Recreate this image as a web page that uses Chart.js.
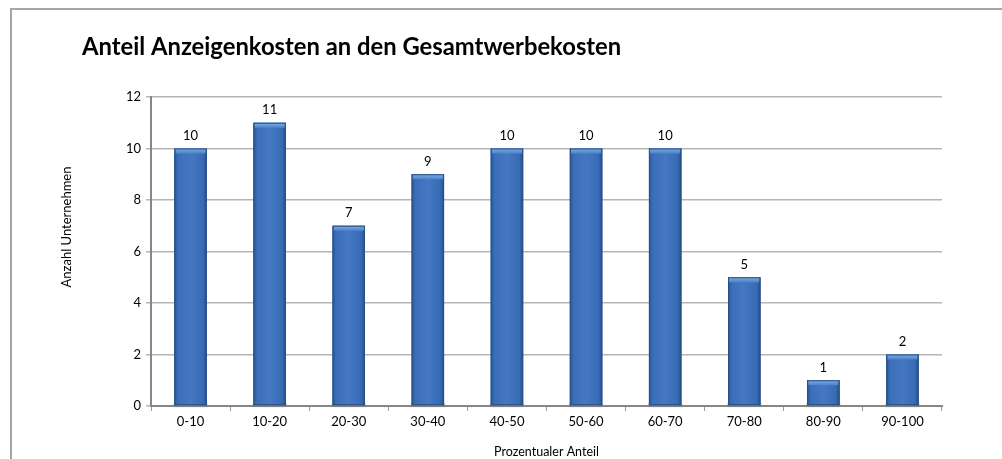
<!DOCTYPE html>
<html lang="de">
<head>
    <meta charset="utf-8" />
    <title>Anteil Anzeigenkosten</title>
    <script src="https://cdn.jsdelivr.net/npm/chart.js"></script>
    <style>
      body { margin: 0; background: #fff; }
      canvas { display: block; }
    </style>
</head>
<body>
    <canvas id="barChart" width="1002" height="459"></canvas>

    <script>
        // --- Daten ---
        const categories = ["0-10", "10-20", "20-30", "30-40", "40-50", "50-60", "60-70", "70-80", "80-90", "90-100"];
        const anzahl = [10, 11, 7, 9, 10, 10, 10, 5, 1, 2];
        const yTicks = [0, 2, 4, 6, 8, 10, 12];

        const titel = "Anteil Anzeigenkosten an den Gesamtwerbekosten";
        const xTitel = "Prozentualer Anteil";
        const yTitel = "Anzahl Unternehmen";

        const FONT = "Lato, 'Open Sans', sans-serif";

        // Rahmen, Titel und y-Achsentitel
        const framePlugin = {
            id: "frame",
            beforeDraw(chart) {
                const ctx = chart.ctx;
                ctx.save();
                ctx.strokeStyle = "#a6a6a6";
                ctx.lineWidth = 2;
                ctx.beginPath();
                ctx.moveTo(11, chart.height + 2);
                ctx.lineTo(11, 9);
                ctx.lineTo(chart.width + 2, 9);
                ctx.stroke();

                // Titel, Breite wie im Original (~540px)
                let size = 20;
                ctx.font = "bold " + size + "px " + FONT;
                size = Math.min(24, size * 540 / ctx.measureText(titel).width);
                ctx.font = "bold " + size.toFixed(1) + "px " + FONT;
                ctx.fillStyle = "#000";
                ctx.textBaseline = "middle";
                ctx.textAlign = "left";
                ctx.fillText(titel, 82, 47);

                // y-Achsentitel (leicht oberhalb der Mitte, wie im Original)
                ctx.translate(67, 227);
                ctx.rotate(-Math.PI / 2);
                ctx.font = "13px " + FONT;
                ctx.textAlign = "center";
                ctx.fillText(yTitel, 0, 0);
                ctx.restore();
            }
        };

        // Balken mit Verlauf + Werte darüber
        const barStylePlugin = {
            id: "barStyle",
            afterDatasetsDraw(chart) {
                const ctx = chart.ctx;
                const meta = chart.getDatasetMeta(0);
                ctx.save();
                meta.data.forEach((bar, i) => {
                    const p = bar.getProps(["x", "y", "base", "width"], true);
                    const l = p.x - p.width / 2, r = p.x + p.width / 2;
                    const top = p.y, h = p.base - p.y;

                    // Schatten unten
                    ctx.fillStyle = "rgba(120,120,120,0.35)";
                    ctx.fillRect(l - 1, p.base - 2, p.width + 2, 4);

                    const g = ctx.createLinearGradient(l, 0, r, 0);
                    g.addColorStop(0, "#2a589a");
                    g.addColorStop(0.12, "#3a6eb8");
                    g.addColorStop(0.5, "#4478c2");
                    g.addColorStop(0.88, "#386bb4");
                    g.addColorStop(1, "#22508e");
                    ctx.fillStyle = g;
                    ctx.fillRect(l, top, p.width, h);

                    // helle Oberkante
                    const g2 = ctx.createLinearGradient(0, top, 0, top + 5);
                    g2.addColorStop(0, "#80ace4");
                    g2.addColorStop(1, "#4d83ca");
                    ctx.fillStyle = g2;
                    ctx.fillRect(l + 1, top, p.width - 2, Math.min(5, h));

                    ctx.strokeStyle = "#2a4f84";
                    ctx.lineWidth = 1;
                    ctx.strokeRect(l + 0.5, top + 0.5, p.width - 1, h - 1);

                    // Wert
                    ctx.fillStyle = "#000";
                    ctx.font = "13px " + FONT;
                    ctx.textAlign = "center";
                    ctx.textBaseline = "bottom";
                    ctx.fillText(String(anzahl[i]), p.x, top - 6);
                });
                ctx.restore();
            }
        };

        const barCtx = document.getElementById("barChart").getContext("2d");

        let barChart = new Chart(barCtx, {
            type: "bar",
            data: {
                labels: categories,
                datasets: [{
                    label: yTitel,
                    data: anzahl,
                    backgroundColor: "#3f72b8",
                    barPercentage: 0.41,
                    categoryPercentage: 1.0
                }]
            },
            options: {
                responsive: false,
                animation: false,
                layout: {
                    padding: { left: 60, right: 60, top: 97, bottom: 0 }
                },
                plugins: {
                    legend: { display: false },
                    title: { display: false },
                    tooltip: { enabled: false }
                },
                scales: {
                    x: {
                        afterFit: (scale) => { scale.height = 53; },
                        grid: {
                            drawOnChartArea: false,
                            drawTicks: true,
                            tickLength: 5,
                            offset: true,
                            color: "#9a9a9a"
                        },
                        border: { color: "#868686", width: 2 },
                        ticks: {
                            color: "#000",
                            padding: 3,
                            font: { family: FONT, size: 13 }
                        },
                        title: {
                            display: true,
                            text: xTitel,
                            color: "#000",
                            padding: { top: 0, bottom: 0 },
                            font: { family: FONT, size: 12.5 }
                        }
                    },
                    y: {
                        min: 0,
                        max: 12,
                        afterFit: (scale) => { scale.width = 91; },
                        afterBuildTicks: (scale) => {
                            scale.ticks = yTicks.map(v => ({ value: v }));
                        },
                        grid: {
                            color: "#b5b5b5",
                            lineWidth: 1.5,
                            tickLength: 5
                        },
                        border: { color: "#868686", width: 2 },
                        ticks: {
                            color: "#000",
                            padding: 5,
                            font: { family: FONT, size: 13 }
                        }
                    }
                }
            },
            plugins: [framePlugin, barStylePlugin]
        });
    </script>
</body>
</html>
